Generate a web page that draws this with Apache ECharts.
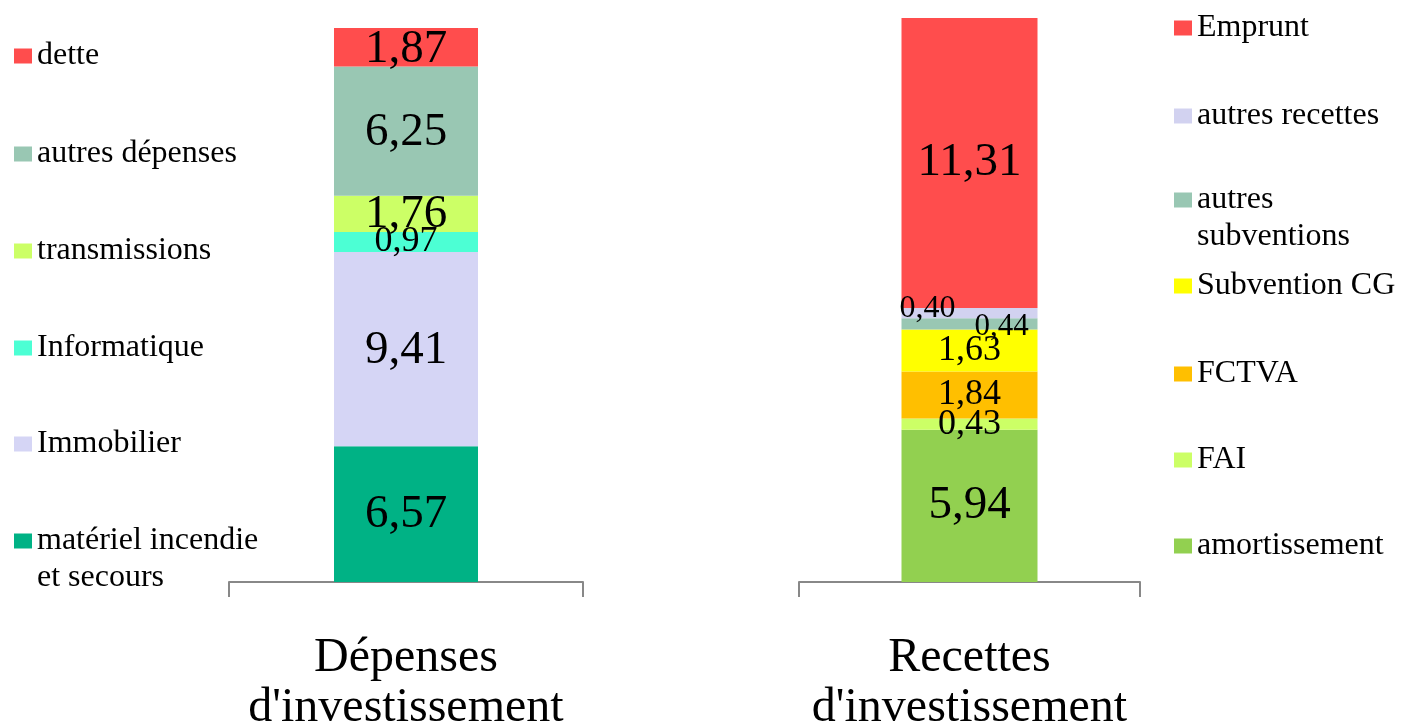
<!DOCTYPE html>
<html>
<head>
<meta charset="utf-8">
<script src="https://cdn.jsdelivr.net/npm/echarts@6/dist/echarts.min.js"></script>
<style>
html,body{margin:0;padding:0;background:#fff;}
#chart{width:1402px;height:727px;}
</style>
</head>
<body>
<div id="chart"></div>
<script>
// ---- Data ----
const depCategories = ["Dépenses\nd'investissement"];
const recCategories = ["Recettes\nd'investissement"];

// bottom-to-top stacking order
const depNames = ["matériel incendie et secours", "Immobilier", "Informatique", "transmissions", "autres dépenses", "dette"];
const depValues = [6.57, 9.41, 0.97, 1.76, 6.25, 1.87];

const recNames = ["amortissement", "FAI", "FCTVA", "Subvention CG", "autres subventions", "autres recettes", "Emprunt"];
const recValues = [5.94, 0.43, 1.84, 1.63, 0.44, 0.40, 11.31];

// ---- Styles ----
const SERIF = "'Liberation Serif', 'DejaVu Serif', serif";
const depColors = ["#00B285", "#D5D5F5", "#4CFFD4", "#CCFF66", "#99C7B3", "#FF4D4D"];
const recColors = ["#92D050", "#CCFF66", "#FFBF00", "#FFFF00", "#99C7B3", "#D2D2F0", "#FF4D4D"];
const depLabelSize = [47, 47, 36, 47, 47, 47];
const recLabelSize = [47, 36, 36, 36, 31, 32, 47];
const depLabelOffset = [[0,0],[0,1],[0,0],[0,1],[0,2],[0,2]];
const recLabelOffset = [[0,0],[0,0],[0,0],[0,0],[32,3],[-42,-5],[0,0]];

// legend centers (px) and layout
const depLegendY = [541, 444, 348, 251, 154, 56];
const recLegendY = [546, 460, 374, 286, 200, 116, 28];
const legendDisplay = {
  "matériel incendie et secours": "\nmatériel incendie\net secours",
  "autres subventions": "\nautres\nsubventions"
};

const fmt = p => p.value.toFixed(2).replace('.', ',');

function makeSeries(names, values, colors, sizes, offsets, stack, axisIdx, barWidth) {
  return names.map((n, i) => ({
    type: 'bar',
    name: n,
    stack: stack,
    xAxisIndex: axisIdx,
    yAxisIndex: axisIdx,
    barWidth: barWidth,
    data: [values[i]],
    itemStyle: { color: colors[i] },
    emphasis: { disabled: true },
    label: {
      show: true,
      position: 'inside',
      formatter: fmt,
      color: '#000',
      fontFamily: SERIF,
      fontSize: sizes[i],
      textBorderWidth: 0,
      offset: offsets[i]
    }
  }));
}

const LH = 37;
function makeLegends(names, centers, left) {
  return names.map((n, i) => {
    const multi = legendDisplay[n] !== undefined;
    return {
      left: left,
      top: multi ? centers[i] - 1.5 * LH : centers[i] - LH / 2,
      orient: 'vertical',
      data: [n],
      icon: 'rect',
      itemWidth: 18,
      itemHeight: 15,
      selectedMode: false,
      padding: 0,
      formatter: name => legendDisplay[name] || name,
      textStyle: {
        fontFamily: SERIF,
        fontSize: 32,
        color: '#000',
        lineHeight: LH
      }
    };
  });
}

const axisLineStyle = { color: '#888888', width: 2 };

const option = {
  backgroundColor: '#fff',
  animation: false,
  legend: [].concat(makeLegends(depNames, depLegendY, 14), makeLegends(recNames, recLegendY, 1174)),
  grid: [
    { left: 229, width: 354, top: 28, bottom: 145, containLabel: false, outerBoundsMode: 'none' },
    { left: 799, width: 341, top: 18, bottom: 145, containLabel: false, outerBoundsMode: 'none' }
  ],
  xAxis: [0, 1].map(k => ({
    type: 'category',
    gridIndex: k,
    data: k === 0 ? depCategories : recCategories,
    axisLine: { show: true, lineStyle: axisLineStyle },
    axisTick: { show: true, length: 15, lineStyle: axisLineStyle },
    axisLabel: {
      color: '#000',
      fontFamily: SERIF,
      fontSize: 48,
      lineHeight: 50,
      margin: 51
    }
  })),
  yAxis: [0, 1].map(k => ({
    type: 'value',
    gridIndex: k,
    min: 0,
    max: 'dataMax',
    show: false,
    splitLine: { show: false }
  })),
  series: [].concat(
    makeSeries(depNames, depValues, depColors, depLabelSize, depLabelOffset, 'dep', 0, 144),
    makeSeries(recNames, recValues, recColors, recLabelSize, recLabelOffset, 'rec', 1, 136)
  )
};

const chart = echarts.init(document.getElementById('chart'), null, { renderer: 'canvas' });
chart.setOption(option);
</script>
</body>
</html>
